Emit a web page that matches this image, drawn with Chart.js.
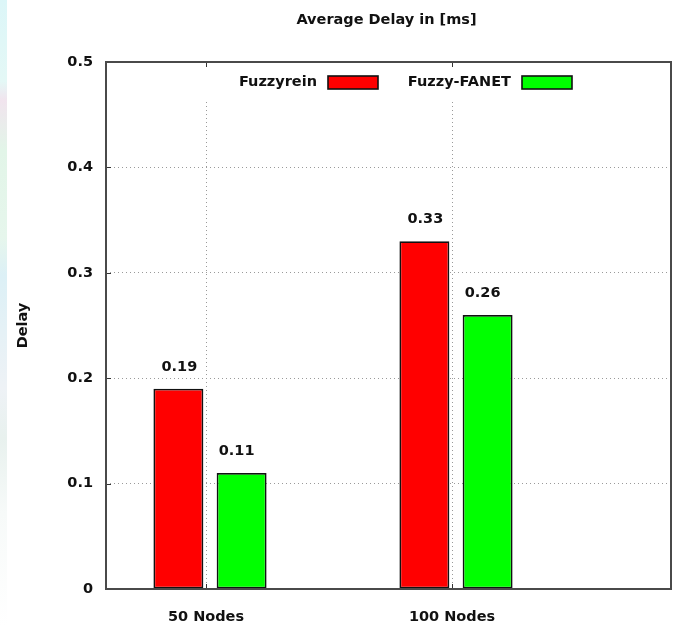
<!DOCTYPE html>
<html>
<head>
<meta charset="utf-8">
<title>Average Delay in [ms]</title>
<script src="https://cdn.jsdelivr.net/npm/chart.js@4"></script>
<style>
  html, body { margin: 0; padding: 0; background: #fff; }
  #wrap {
    position: relative; width: 678px; height: 626px;
    background:
      linear-gradient(to bottom, #dcf6f8 0%, #e4f8f6 13%, #f1e4ee 16%, #e2f5e8 24%, #e6f6ec 38%,
                      #dcf0f6 44%, #eef2f6 62%, #e8f1ee 70%, #f7faf9 82%, #ffffff 100%) left top / 7px 100% no-repeat,
      #fff;
  }
  canvas { display: block; }
</style>
</head>
<body>
<div id="wrap"><canvas id="chart" width="678" height="626"></canvas></div>
<script>
// Chart data
const categories = ['50 Nodes', '100 Nodes'];
const seriesNames = ['Fuzzyrein', 'Fuzzy-FANET'];
const fuzzyrein = [0.19, 0.33];
const fuzzyFanet = [0.11, 0.26];
const yTickValues = [0, 0.1, 0.2, 0.3, 0.4, 0.5];
const yTickLabels = ['0', '0.1', '0.2', '0.3', '0.4', '0.5'];
const chartTitle = 'Average Delay in [ms]';
const yAxisTitle = 'Delay';

// Look and feel
const FONT = 'DejaVu Sans';
const INK = '#111';
const FRAME = '#4a4a4a';
const GRID = '#9a9a9a';
const seriesColors = ['#ff0000', '#00ff00'];
const valueLabelShift = [1, -5];   // horizontal nudge of the value labels per series
const labelFont = { family: FONT, size: 14.5, weight: 'bold' };

const catPos = categories.map((_, i) => i);
const toPoints = vals => vals.map((v, i) => ({ x: catPos[i], y: v }));
const categoryTicks = scale => { scale.ticks = catPos.map(v => ({ value: v })); };

// Frame, inward tics, key, bar value labels and the title
const gnuplotStyle = {
  id: 'gnuplotStyle',
  afterDatasetsDraw(chart) {
    const { ctx, chartArea: a } = chart;
    const fontStr = `bold ${labelFont.size}px "${FONT}"`;
    ctx.save();

    // key (opaque box hides the grid behind it)
    ctx.fillStyle = '#fff';
    ctx.fillRect(a.left + 92, a.top + 1, 400, 36);
    ctx.font = fontStr;
    ctx.textBaseline = 'middle';
    ctx.textAlign = 'right';
    chart.data.datasets.forEach((ds, i) => {
      const off = i * 194;
      ctx.fillStyle = INK;
      ctx.fillText(ds.label, a.left + 211 + off, a.top + 20.5);
      const sx = a.left + 222 + off, sy = a.top + 14;
      ctx.fillStyle = ds.backgroundColor;
      ctx.fillRect(sx, sy, 50, 13);
      ctx.strokeStyle = '#111';
      ctx.lineWidth = 1.6;
      ctx.strokeRect(sx, sy, 50, 13);
    });

    // value labels above each bar
    ctx.textAlign = 'center';
    ctx.fillStyle = INK;
    chart.data.datasets.forEach((ds, i) => {
      chart.getDatasetMeta(i).data.forEach((bar, j) => {
        ctx.fillText(String(ds.data[j].y), bar.x + valueLabelShift[i], bar.y - 21.5);
      });
    });

    // inward tics
    ctx.strokeStyle = '#333';
    ctx.lineWidth = 1;
    const ys = chart.scales.y, xs = chart.scales.x;
    ys.ticks.forEach((t, i) => {
      const py = Math.round(ys.getPixelForTick(i)) + 0.5;
      ctx.beginPath(); ctx.moveTo(a.left, py); ctx.lineTo(a.left + 5, py); ctx.stroke();
    });
    xs.ticks.forEach((t, i) => {
      const px = Math.round(xs.getPixelForTick(i)) + 0.5;
      ctx.beginPath(); ctx.moveTo(px, a.bottom); ctx.lineTo(px, a.bottom - 5); ctx.stroke();
      ctx.beginPath(); ctx.moveTo(px, a.top); ctx.lineTo(px, a.top + 5); ctx.stroke();
    });

    // border
    ctx.strokeStyle = FRAME;
    ctx.lineWidth = 2;
    ctx.strokeRect(a.left, a.top, a.right - a.left, a.bottom - a.top);

    // title
    ctx.fillStyle = INK;
    ctx.textAlign = 'center';
    ctx.fillText(chartTitle, (a.left + a.right) / 2 - 2, 20);
    ctx.restore();
  }
};

new Chart(document.getElementById('chart'), {
  type: 'bar',
  data: {
    datasets: [
      { label: seriesNames[0], data: toPoints(fuzzyrein), backgroundColor: seriesColors[0] },
      { label: seriesNames[1], data: toPoints(fuzzyFanet), backgroundColor: seriesColors[1] }
    ].map(ds => Object.assign(ds, {
      xAxisID: 'xb',
      borderColor: '#111',
      borderWidth: 1.8,
      borderSkipped: false,
      categoryPercentage: 0.514,
      barPercentage: 0.79
    }))
  },
  options: {
    responsive: false,
    animation: false,
    devicePixelRatio: 1,
    layout: { padding: { top: 62, right: 7, left: 0, bottom: 0 } },
    plugins: { legend: { display: false }, title: { display: false }, tooltip: { enabled: false } },
    scales: {
      x: {
        type: 'linear', position: 'bottom',
        min: -0.4065, max: 1.8902,
        offset: false,
        afterBuildTicks: categoryTicks,
        afterFit: s => { s.height = 37; },
        grid: { color: GRID, lineWidth: 1, drawTicks: false, offset: false },
        border: { display: false, dash: [1, 3] },
        ticks: {
          callback: v => categories[v],
          font: labelFont, color: INK, padding: 20,
          maxRotation: 0, autoSkip: false
        }
      },
      xb: {
        type: 'linear', display: false,
        min: -0.4228, max: 1.874,
        offset: false,
        grid: { offset: false },
        afterBuildTicks: categoryTicks
      },
      y: {
        min: 0, max: 0.5,
        afterBuildTicks: s => { s.ticks = yTickValues.map(v => ({ value: v })); },
        afterFit: s => { s.width = 106; },
        grid: { color: GRID, lineWidth: 1, drawTicks: false },
        border: { display: false, dash: [1, 3] },
        ticks: { callback: (v, i) => yTickLabels[i], font: labelFont, color: INK, padding: 13 },
        title: { display: true, text: yAxisTitle, font: labelFont, color: INK, padding: { top: 15, bottom: 0 } }
      }
    }
  },
  plugins: [gnuplotStyle]
});
</script>
</body>
</html>
